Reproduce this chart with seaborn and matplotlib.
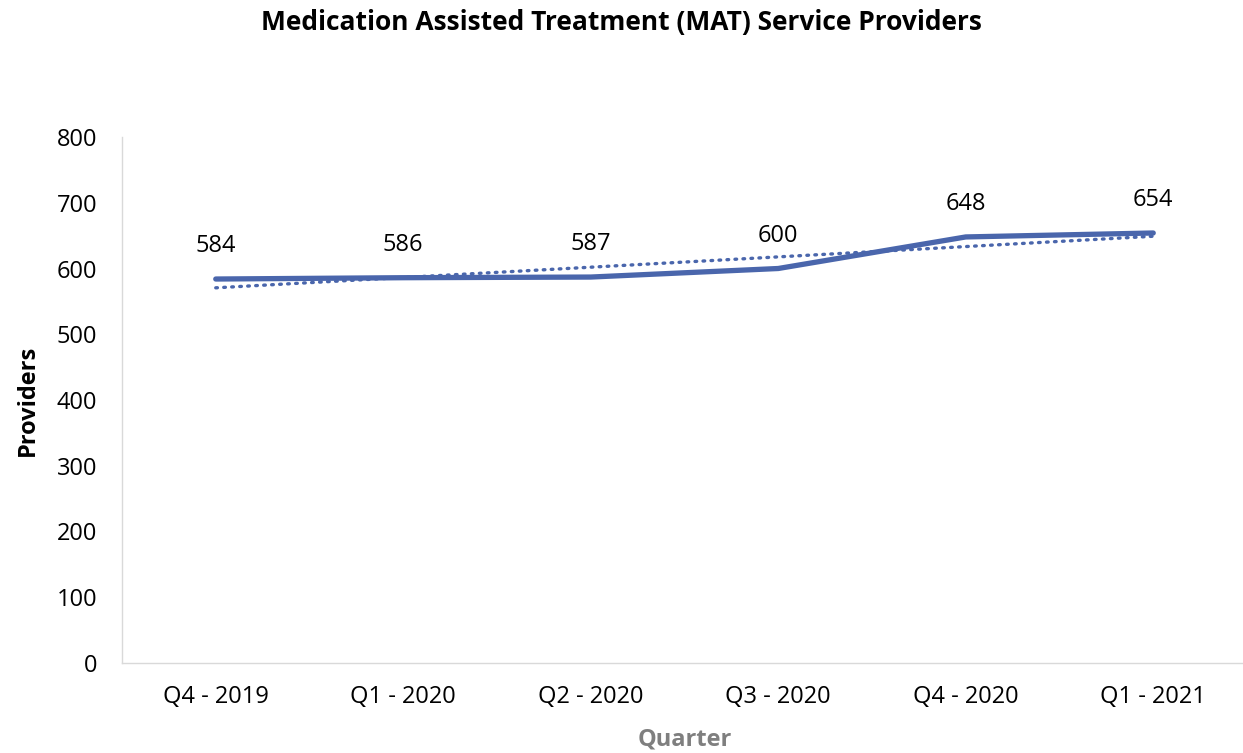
import numpy as np
import pandas as pd
import matplotlib
matplotlib.use("Agg")
import matplotlib.pyplot as plt
import seaborn as sns

quarters = ["Q4 - 2019", "Q1 - 2020", "Q2 - 2020", "Q3 - 2020", "Q4 - 2020", "Q1 - 2021"]
providers = [584, 586, 587, 600, 648, 654]
y_ticks = [0, 100, 200, 300, 400, 500, 600, 700, 800]

LINE_COLOR = "#4A66AC"

sns.set_theme(style="white")
plt.rcParams["font.family"] = ["Open Sans", "DejaVu Sans"]

df = pd.DataFrame({"pos": np.arange(len(quarters)), "providers": providers})

fig = plt.figure(figsize=(12.43, 7.53), dpi=100)
ax = fig.add_axes([122 / 1243, 90 / 753, 1125 / 1243, 526 / 753])

sns.lineplot(data=df, x="pos", y="providers", color=LINE_COLOR, lw=3.8,
             solid_capstyle="round", ax=ax)
# linear trendline, fitted by seaborn
sns.regplot(data=df, x="pos", y="providers", ci=None, scatter=False, ax=ax,
            line_kws={"color": LINE_COLOR, "lw": 2.4, "linestyle": (0, (0.5, 1.9)),
                      "dash_capstyle": "round"})

for x, v in zip(df["pos"], providers):
    ax.annotate(str(v), (x, v), xytext=(0, 15), textcoords="offset points",
                ha="center", va="bottom", fontsize=17, color="black")

ax.set_xlim(-0.5, len(quarters) - 0.5)
ax.set_ylim(0, 800)
ax.set_yticks(y_ticks)
ax.set_xticks(df["pos"])
ax.set_xticklabels(quarters)
ax.tick_params(axis="both", labelsize=17, length=0, colors="black")
ax.tick_params(axis="x", pad=16)
ax.tick_params(axis="y", pad=18)

for side in ["top", "right"]:
    ax.spines[side].set_visible(False)
for side in ["left", "bottom"]:
    ax.spines[side].set_color("#D9D9D9")
    ax.spines[side].set_linewidth(1.0)

ax.set_xlabel("Quarter", fontsize=17, fontweight="bold", color="#7F7F7F", labelpad=13)
ax.set_ylabel("Providers", fontsize=17, fontweight="bold", color="black", labelpad=12)
fig.suptitle("Medication Assisted Treatment (MAT) Service Providers",
             fontsize=19, fontweight="bold", color="black", x=0.5, y=0.988)

fig.savefig("out.png", dpi=100)
